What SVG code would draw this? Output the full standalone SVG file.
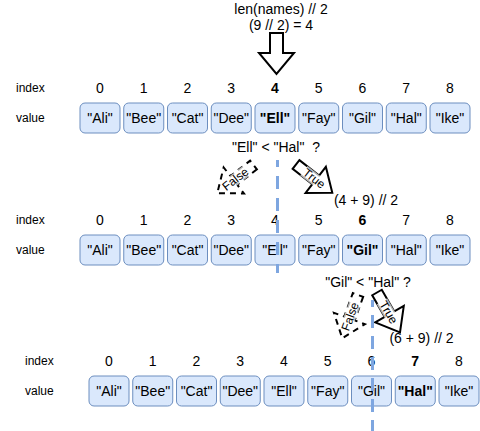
<svg xmlns="http://www.w3.org/2000/svg" xmlns:xlink="http://www.w3.org/1999/xlink" width="480" height="431" viewBox="0 0 480 431">
<style>
text{font-family:"Liberation Sans",Arial,sans-serif;fill:#000}
.t14{font-size:14px;text-anchor:middle}
.t12{font-size:12px}
.c{text-anchor:middle}
.b{font-weight:bold}
.box{fill:#dae8fc;stroke:#6c8ebf;stroke-width:1}
.arr{fill:#fff;stroke:#000;stroke-width:2;stroke-linejoin:miter}
.dash{stroke-dasharray:6 5}
.lbg{fill:#fff;fill-opacity:0.7}
.guide{stroke:#7ea6e0;stroke-width:3;fill:none}
</style>
<defs>
<path id="blk" d="M0,-5.5 L25,-5.5 L25,-16.5 L46,0 L25,16.5 L25,5.5 L0,5.5 Z"/>
</defs>
<rect width="480" height="431" fill="#fff"/>

<g id="title">
<text class="t14" x="281" y="14">len(names) // 2</text>
<text class="t14" x="281" y="30">(9 // 2) = 4</text>
</g>
<g id="mid-arrow">
<path class="arr" stroke-width="1.8" d="M270,33 L283,33 L283,53 L294,53 L276.5,74 L259,53 L270,53 Z"/>
</g>

<g id="row1">
<text class="t12" x="16" y="92">index</text>
<text class="t12" x="16" y="122">value</text>
<text class="t14" x="100" y="93">0</text>
<text class="t14" x="143.75" y="93">1</text>
<text class="t14" x="187.5" y="93">2</text>
<text class="t14" x="231.25" y="93">3</text>
<text class="t14 b" x="275" y="93">4</text>
<text class="t14" x="318.75" y="93">5</text>
<text class="t14" x="362.5" y="93">6</text>
<text class="t14" x="406.25" y="93">7</text>
<text class="t14" x="450" y="93">8</text>
</g>
<g id="r1c0"><rect class="box" x="80" y="103" width="40" height="30" rx="5"/><text class="t14" x="100" y="123">"Ali"</text></g>
<g id="r1c1"><rect class="box" x="123.75" y="103" width="40" height="30" rx="5"/><text class="t14" x="143.75" y="123">"Bee"</text></g>
<g id="r1c2"><rect class="box" x="167.5" y="103" width="40" height="30" rx="5"/><text class="t14" x="187.5" y="123">"Cat"</text></g>
<g id="r1c3"><rect class="box" x="211.25" y="103" width="40" height="30" rx="5"/><text class="t14" x="231.25" y="123">"Dee"</text></g>
<g id="r1c4"><rect class="box" x="255" y="103" width="40" height="30" rx="5"/><text class="t14 b" x="275" y="123">"Ell"</text></g>
<g id="r1c5"><rect class="box" x="298.75" y="103" width="40" height="30" rx="5"/><text class="t14" x="318.75" y="123">"Fay"</text></g>
<g id="r1c6"><rect class="box" x="342.5" y="103" width="40" height="30" rx="5"/><text class="t14" x="362.5" y="123">"Gil"</text></g>
<g id="r1c7"><rect class="box" x="386.25" y="103" width="40" height="30" rx="5"/><text class="t14" x="406.25" y="123">"Hal"</text></g>
<g id="r1c8"><rect class="box" x="430" y="103" width="40" height="30" rx="5"/><text class="t14" x="450" y="123">"Ike"</text></g>

<g id="q1"><text class="t14" x="276" y="151.5" xml:space="preserve">"Ell" &lt; "Hal"  ?</text></g>
<g id="false1" transform="translate(253.5,165) rotate(142)">
<use xlink:href="#blk" class="arr dash"/>
<g transform="rotate(180 23 0)"><rect class="lbg" x="8" y="-6" width="30" height="12"/><text class="t12 c" x="23" y="4">False</text></g>
</g>
<g id="true1" transform="translate(296,164.5) rotate(37.9)">
<use xlink:href="#blk" class="arr"/>
<rect class="lbg" x="10" y="-6" width="26" height="12"/><text class="t12 c" x="23" y="4">True</text>
</g>
<g id="calc1"><text class="t14" x="366" y="205">(4 + 9) // 2</text></g>

<g id="row2">
<text class="t12" x="16" y="224">index</text>
<text class="t12" x="16" y="254">value</text>
<text class="t14" x="100" y="225">0</text>
<text class="t14" x="143.75" y="225">1</text>
<text class="t14" x="187.5" y="225">2</text>
<text class="t14" x="231.25" y="225">3</text>
<text class="t14" x="275" y="225">4</text>
<text class="t14" x="318.75" y="225">5</text>
<text class="t14 b" x="362.5" y="225">6</text>
<text class="t14" x="406.25" y="225">7</text>
<text class="t14" x="450" y="225">8</text>
</g>
<g id="r2c0"><rect class="box" x="80" y="235" width="40" height="30" rx="5"/><text class="t14" x="100" y="255">"Ali"</text></g>
<g id="r2c1"><rect class="box" x="123.75" y="235" width="40" height="30" rx="5"/><text class="t14" x="143.75" y="255">"Bee"</text></g>
<g id="r2c2"><rect class="box" x="167.5" y="235" width="40" height="30" rx="5"/><text class="t14" x="187.5" y="255">"Cat"</text></g>
<g id="r2c3"><rect class="box" x="211.25" y="235" width="40" height="30" rx="5"/><text class="t14" x="231.25" y="255">"Dee"</text></g>
<g id="r2c4"><rect class="box" x="255" y="235" width="40" height="30" rx="5"/><text class="t14" x="275" y="255">"Ell"</text></g>
<g id="r2c5"><rect class="box" x="298.75" y="235" width="40" height="30" rx="5"/><text class="t14" x="318.75" y="255">"Fay"</text></g>
<g id="r2c6"><rect class="box" x="342.5" y="235" width="40" height="30" rx="5"/><text class="t14 b" x="362.5" y="255">"Gil"</text></g>
<g id="r2c7"><rect class="box" x="386.25" y="235" width="40" height="30" rx="5"/><text class="t14" x="406.25" y="255">"Hal"</text></g>
<g id="r2c8"><rect class="box" x="430" y="235" width="40" height="30" rx="5"/><text class="t14" x="450" y="255">"Ike"</text></g>

<g id="q2"><text class="t14" x="368" y="286.5">"Gil" &lt; "Hal" ?</text></g>
<g id="false2" transform="translate(358,295) rotate(110)">
<use xlink:href="#blk" class="arr dash"/>
<g transform="rotate(180 23 0)"><rect class="lbg" x="8" y="-6" width="30" height="12"/><text class="t12 c" x="23" y="4">False</text></g>
</g>
<g id="true2" transform="translate(377,292.5) rotate(60)">
<use xlink:href="#blk" class="arr"/>
<rect class="lbg" x="10" y="-6" width="26" height="12"/><text class="t12 c" x="23" y="4">True</text>
</g>
<g id="calc2"><text class="t14" x="421.5" y="343">(6 + 9) // 2</text></g>

<g id="row3">
<text class="t12" x="25" y="365">index</text>
<text class="t12" x="25" y="395">value</text>
<text class="t14" x="109" y="366">0</text>
<text class="t14" x="152.75" y="366">1</text>
<text class="t14" x="196.5" y="366">2</text>
<text class="t14" x="240.25" y="366">3</text>
<text class="t14" x="284" y="366">4</text>
<text class="t14" x="327.75" y="366">5</text>
<text class="t14" x="371.5" y="366">6</text>
<text class="t14 b" x="415.25" y="366">7</text>
<text class="t14" x="459" y="366">8</text>
</g>
<g id="r3c0"><rect class="box" x="89" y="376" width="40" height="30" rx="5"/><text class="t14" x="109" y="396">"Ali"</text></g>
<g id="r3c1"><rect class="box" x="132.75" y="376" width="40" height="30" rx="5"/><text class="t14" x="152.75" y="396">"Bee"</text></g>
<g id="r3c2"><rect class="box" x="176.5" y="376" width="40" height="30" rx="5"/><text class="t14" x="196.5" y="396">"Cat"</text></g>
<g id="r3c3"><rect class="box" x="220.25" y="376" width="40" height="30" rx="5"/><text class="t14" x="240.25" y="396">"Dee"</text></g>
<g id="r3c4"><rect class="box" x="264" y="376" width="40" height="30" rx="5"/><text class="t14" x="284" y="396">"Ell"</text></g>
<g id="r3c5"><rect class="box" x="307.75" y="376" width="40" height="30" rx="5"/><text class="t14" x="327.75" y="396">"Fay"</text></g>
<g id="r3c6"><rect class="box" x="351.5" y="376" width="40" height="30" rx="5"/><text class="t14" x="371.5" y="396">"Gil"</text></g>
<g id="r3c7"><rect class="box" x="395.25" y="376" width="40" height="30" rx="5"/><text class="t14 b" x="415.25" y="396">"Hal"</text></g>
<g id="r3c8"><rect class="box" x="439" y="376" width="40" height="30" rx="5"/><text class="t14" x="459" y="396">"Ike"</text></g>

<g id="connectors">
<line class="guide" x1="277.5" y1="160" x2="277.5" y2="273" stroke-dasharray="13 9" stroke-dashoffset="6"/>
<line class="guide" x1="372.5" y1="300" x2="372.5" y2="431" stroke-dasharray="13 8" stroke-dashoffset="6"/>
</g>
</svg>
